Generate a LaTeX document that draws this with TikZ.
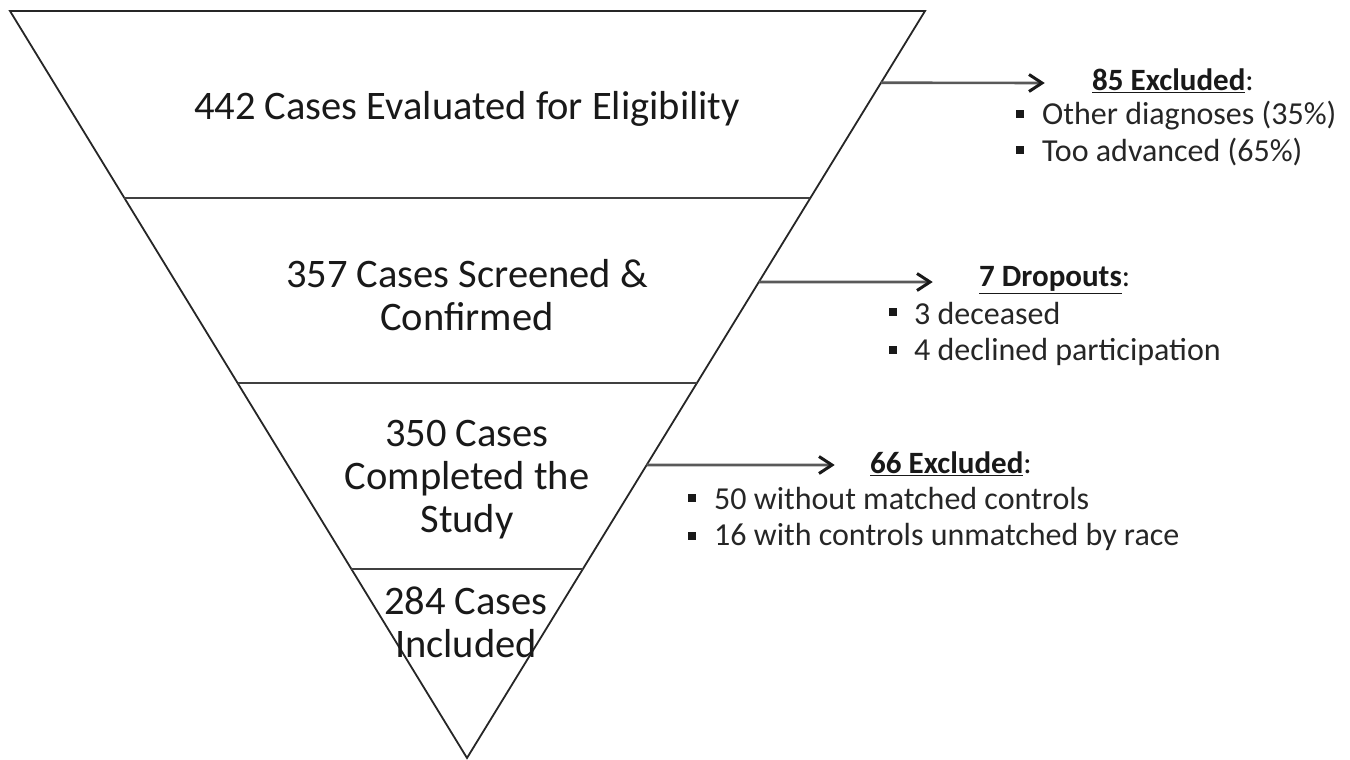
\documentclass[tikz,border=0pt]{standalone}
\usepackage{fontspec}
\setmainfont{Carlito}
\usetikzlibrary{calc}
\begin{document}
\begin{tikzpicture}[x=1pt,y=-1pt,
  edge/.style={draw=black!85,line width=1.8pt,line join=miter},
  band/.style={draw=black!75,line width=1.8pt},
  flow/.style={draw=black!65,line width=2.6pt,shorten >=1.5pt},
  head/.style={draw=black!90,line width=3pt,line join=miter,line cap=butt},
  maintext/.style={font=\fontsize{40.5}{43}\selectfont,align=center,inner sep=0pt,text=black!90},
  headtext/.style={font=\fontsize{31}{36}\selectfont,anchor=west,inner sep=0pt,text=black!90},
  itemtext/.style={font=\fontsize{32}{36}\selectfont,anchor=west,inner sep=0pt,text=black!85},
  bul/.style={fill=black!90,minimum size=8pt,inner sep=0pt}]
\useasboundingbox (0,0) rectangle (1350,760);
\fill[white] (0,0) rectangle (1350,760);
% triangle
\coordinate (TL) at (10,11);
\coordinate (TR) at (925,11);
\coordinate (A) at (467,758);
\draw[edge] (TL) -- (TR) -- (A) -- cycle;
\draw[band] ($(TL)!0.2503!(A)$) -- ($(TR)!0.2503!(A)$);
\draw[band] ($(TL)!0.498!(A)$) -- ($(TR)!0.498!(A)$);
\draw[band] ($(TL)!0.747!(A)$) -- ($(TR)!0.747!(A)$);
% stage labels
\node[maintext] (s1) at (467,109) {442 Cases Evaluated for Eligibility};
\node[maintext] (s2) at (467,295) {357 Cases Screened \&\\Confirmed};
\node[maintext] (s3) at (467,480) {350 Cases\\Completed the\\Study};
\node[maintext] (s4) at (466,622) {284 Cases\\Included};
% arrows
\coordinate (a1) at ($(TR)!0.096!(A)$);
\coordinate (a2) at ($(TR)!0.3628!(A)$);
\coordinate (a3) at ($(TR)!0.6078!(A)$);
\coordinate (e1) at (1042,83);
\coordinate (e2) at (930,282);
\coordinate (e3) at (832,465);
\foreach \i in {1,2,3}{
  \draw[flow] (a\i) -- (e\i);
  \draw[head] ([xshift=-13pt,yshift=8.5pt]e\i) -- (e\i) -- ([xshift=-13pt,yshift=-8.5pt]e\i);
}
% box 1
\node[headtext] (h1) at (1092,81) {\textbf{\underline{85 Excluded}}:};
\node[bul] (b11) at (1020,114) {};
\node[itemtext] (t11) at (1042,116) {Other diagnoses (35\%)};
\node[bul] (b12) at (1020,150) {};
\node[itemtext] (t12) at (1042,152) {Too advanced (65\%)};
% box 2
\node[headtext] (h2) at (979,280) {\textbf{\underline{7 Dropouts}}:};
\node[bul] (b21) at (893,312) {};
\node[itemtext] (t21) at (914,314) {3 deceased};
\node[bul] (b22) at (893,350) {};
\node[itemtext] (t22) at (914,352) {4 declined participation};
% box 3
\node[headtext] (h3) at (870,464) {\textbf{\underline{66 Excluded}}:};
\node[bul] (b31) at (692,498) {};
\node[itemtext] (t31) at (714,499) {50 without matched controls};
\node[bul] (b32) at (692,536) {};
\node[itemtext] (t32) at (714,537) {16 with controls unmatched by race};
\end{tikzpicture}
\end{document}
